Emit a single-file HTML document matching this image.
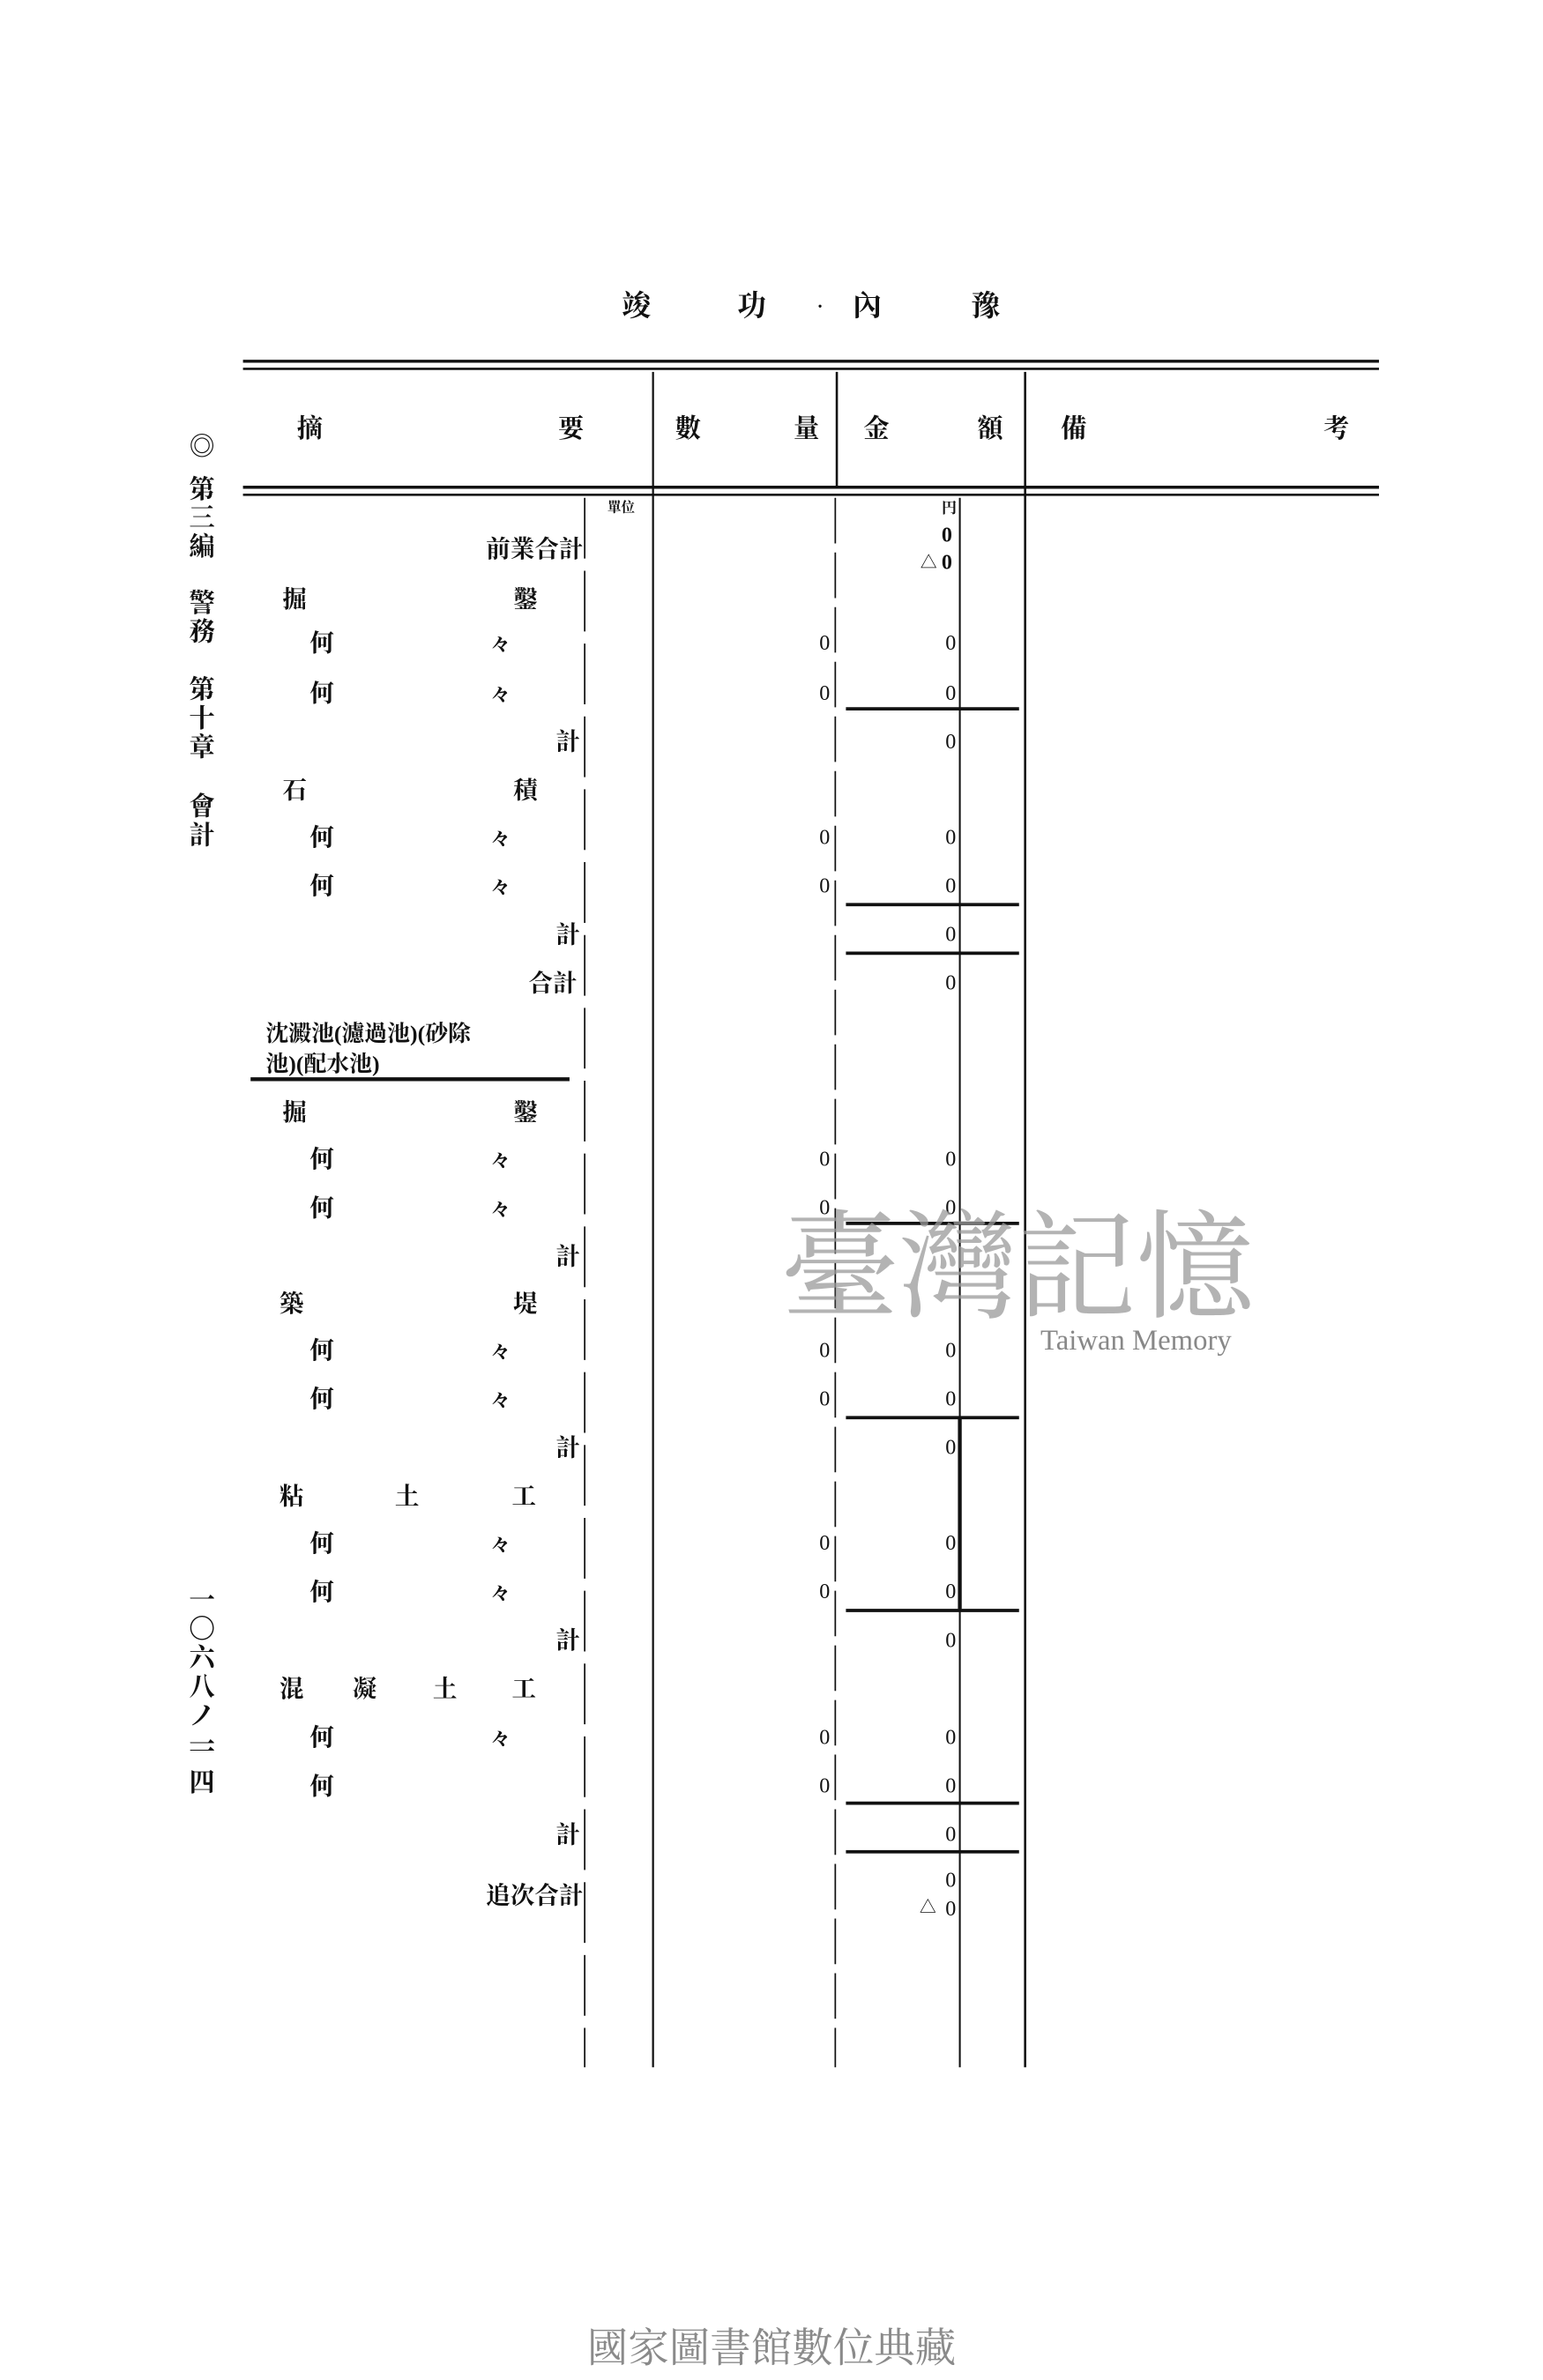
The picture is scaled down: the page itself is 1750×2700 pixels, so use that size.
<!DOCTYPE html>
<html><head><meta charset="utf-8"><style>
html,body{margin:0;padding:0;background:#fff;}
svg{display:block;}
text{font-family:"Liberation Serif","Noto Serif CJK SC","Noto Sans CJK JP",serif;fill:#111;}
</style></head><body>
<svg width="1750" height="2700" viewBox="0 0 1016 1568" preserveAspectRatio="none" xmlns="http://www.w3.org/2000/svg">
<rect width="1016" height="1568" fill="#fff"/>
<g font-size="19" font-weight="bold" text-anchor="middle">
<text x="419" y="208">竣</text><text x="495" y="208">功</text><text x="540" y="206" font-size="12">·</text><text x="571" y="208">內</text><text x="649" y="208">豫</text>
</g>
<g stroke="#111">
<line x1="160" y1="238" x2="908" y2="238" stroke-width="2"/>
<line x1="160" y1="243" x2="908" y2="243" stroke-width="1.5"/>
<line x1="160" y1="321" x2="908" y2="321" stroke-width="2"/>
<line x1="160" y1="326" x2="908" y2="326" stroke-width="1.5"/>
<line x1="430" y1="245" x2="430" y2="1362" stroke-width="1.3"/>
<line x1="550" y1="328" x2="550" y2="1362" stroke-width="1" stroke-dasharray="30 6"/>
<line x1="551" y1="245" x2="551" y2="320" stroke-width="1.5"/>
<line x1="675" y1="245" x2="675" y2="1362" stroke-width="1.5"/>
<line x1="385" y1="328" x2="385" y2="1362" stroke-width="1" stroke-dasharray="40 8"/>
<line x1="632" y1="328" x2="632" y2="1362" stroke-width="1.2"/>
<line x1="632" y1="935" x2="632" y2="1060" stroke-width="2.5"/>
<g stroke-width="2.2">
<line x1="557" y1="467" x2="671" y2="467"/>
<line x1="557" y1="596" x2="671" y2="596"/>
<line x1="557" y1="628" x2="671" y2="628"/>
<line x1="557" y1="806" x2="671" y2="806"/>
<line x1="557" y1="934" x2="671" y2="934"/>
<line x1="557" y1="1061" x2="671" y2="1061"/>
<line x1="557" y1="1188" x2="671" y2="1188"/>
<line x1="557" y1="1220" x2="671" y2="1220"/>
</g>
<line x1="165" y1="711" x2="375" y2="711" stroke-width="2.5"/>
</g>
<g font-size="17" font-weight="bold" text-anchor="middle">
<text x="204" y="288">摘</text><text x="376" y="288">要</text>
<text x="453" y="288">數</text><text x="531" y="288">量</text>
<text x="577" y="288">金</text><text x="652" y="288">額</text>
<text x="707" y="288">備</text><text x="880" y="288">考</text>
</g>
<g font-size="17" font-weight="bold" text-anchor="middle">
<text x="133" y="300">◎</text>
<text x="133" y="328">第</text><text x="133" y="347">三</text><text x="133" y="366">編</text>
<text x="133" y="403">警</text><text x="133" y="422">務</text>
<text x="133" y="460">第</text><text x="133" y="479">十</text><text x="133" y="498">章</text>
<text x="133" y="537">會</text><text x="133" y="556">計</text>
<text x="133" y="1060">一</text><text x="133" y="1079">〇</text><text x="133" y="1098">六</text><text x="133" y="1117">八</text><text x="133" y="1136">ノ</text><text x="133" y="1155">一</text><text x="133" y="1160">一</text><text x="133" y="1180">四</text>
</g>
<g font-size="16" font-weight="bold">
<text x="400" y="337" font-size="9">單位</text>
<text x="620" y="338" font-size="10">円</text>
<text x="384" y="367" text-anchor="end">前業合計</text>
<text x="620" y="357" font-size="14">0</text><text x="606" y="374" font-size="11">△</text><text x="620" y="375" font-size="14">0</text>
<text x="186" y="400">掘</text><text x="338" y="400">鑿</text>
<text x="204" y="429">何</text><text x="323" y="429" font-size="13">々</text>
<text x="204" y="462">何</text><text x="323" y="462" font-size="13">々</text>
<text x="366" y="494">計</text>
<text x="186" y="526">石</text><text x="338" y="526">積</text>
<text x="204" y="557">何</text><text x="323" y="557" font-size="13">々</text>
<text x="204" y="589">何</text><text x="323" y="589" font-size="13">々</text>
<text x="366" y="621">計</text>
<text x="348" y="653">合計</text>
<text x="175" y="686" font-size="15">沈澱池(濾過池)(砂除</text>
<text x="175" y="706" font-size="15">池)(配水池)</text>
<text x="186" y="738">掘</text><text x="338" y="738">鑿</text>
<text x="204" y="769">何</text><text x="323" y="769" font-size="13">々</text>
<text x="204" y="801">何</text><text x="323" y="801" font-size="13">々</text>
<text x="366" y="833">計</text>
<text x="184" y="864">築</text><text x="338" y="864">堤</text>
<text x="204" y="895">何</text><text x="323" y="895" font-size="13">々</text>
<text x="204" y="927">何</text><text x="323" y="927" font-size="13">々</text>
<text x="366" y="959">計</text>
<text x="184" y="991">粘</text><text x="260" y="991">土</text><text x="337" y="991">工</text>
<text x="204" y="1022">何</text><text x="323" y="1022" font-size="13">々</text>
<text x="204" y="1054">何</text><text x="323" y="1054" font-size="13">々</text>
<text x="366" y="1086">計</text>
<text x="184" y="1118">混</text><text x="232" y="1118">凝</text><text x="285" y="1118">土</text><text x="337" y="1118">工</text>
<text x="204" y="1150">何</text><text x="323" y="1150" font-size="13">々</text>
<text x="204" y="1182">何</text>
<text x="366" y="1214">計</text>
<text x="384" y="1254" text-anchor="end">追次合計</text>
</g>
<g font-size="14" text-anchor="middle">
<text x="543" y="428">0</text><text x="626" y="428">0</text>
<text x="543" y="461">0</text><text x="626" y="461">0</text>
<text x="626" y="493">0</text>
<text x="543" y="556">0</text><text x="626" y="556">0</text>
<text x="543" y="588">0</text><text x="626" y="588">0</text>
<text x="626" y="620">0</text>
<text x="626" y="652">0</text>
<text x="543" y="768">0</text><text x="626" y="768">0</text>
<text x="543" y="800">0</text><text x="626" y="800">0</text>
<text x="543" y="894">0</text><text x="626" y="894">0</text>
<text x="543" y="926">0</text><text x="626" y="926">0</text>
<text x="626" y="958">0</text>
<text x="543" y="1021">0</text><text x="626" y="1021">0</text>
<text x="543" y="1053">0</text><text x="626" y="1053">0</text>
<text x="626" y="1085">0</text>
<text x="543" y="1149">0</text><text x="626" y="1149">0</text>
<text x="543" y="1181">0</text><text x="626" y="1181">0</text>
<text x="626" y="1213">0</text>
<text x="626" y="1243">0</text><text x="611" y="1260" font-size="11">△</text><text x="626" y="1262">0</text>
</g>
<text x="670" y="862" font-size="78" text-anchor="middle" style="fill:#9a9a9a;opacity:0.75" font-family="Noto Serif CJK SC, serif">臺灣記憶</text>
<text x="748" y="889" font-size="19" text-anchor="middle" style="fill:#888" font-family="Liberation Sans, sans-serif">Taiwan Memory</text>
<text x="508" y="1556" font-size="27" text-anchor="middle" style="fill:#8a8a8a" font-family="Noto Sans CJK TC, sans-serif">國家圖書館數位典藏</text>
</svg>
</body></html>
